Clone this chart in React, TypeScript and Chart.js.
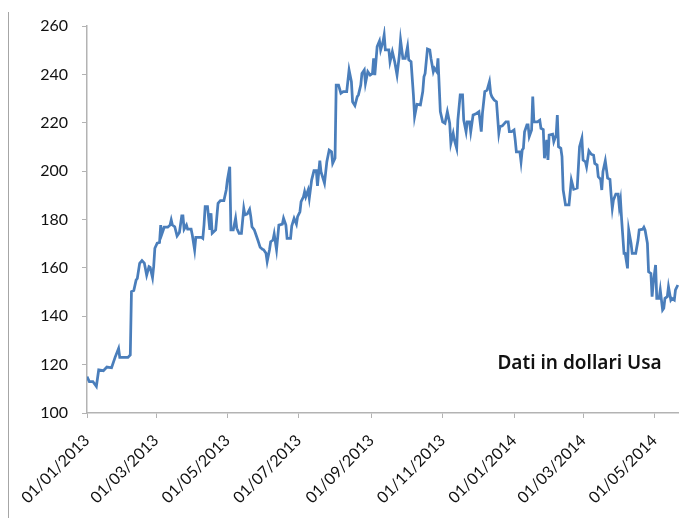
import React, { useEffect, useRef } from "react";
import { Chart, registerables } from "chart.js";

Chart.register(...registerables);

// Days elapsed since 01/01/2013
const days: number[] = [
  0, 2, 5, 8, 10, 14, 17, 21, 24, 27, 28, 32, 35, 37, 38, 40, 42, 43, 45, 47,
  49, 51, 53, 54, 56, 57, 58, 60, 62, 63, 64, 66, 69, 71, 72, 73, 75, 77, 79, 81,
  82, 83, 85, 86, 89, 90, 92, 93, 98, 99, 100, 101, 103, 105, 106, 107, 110, 112, 114, 117,
  119, 120, 122, 123, 125, 127, 128, 130, 132, 134, 135, 137, 139, 140, 141, 143, 144, 146, 148, 150,
  151, 153, 154, 156, 157, 159, 160, 162, 164, 167, 168, 170, 171, 174, 175, 177, 179, 180, 182, 183,
  185, 186, 187, 189, 190, 192, 194, 196, 197, 199, 200, 203, 205, 207, 209, 210, 212, 213, 215, 217,
  219, 222, 224, 226, 227, 229, 231, 232, 234, 235, 237, 238, 240, 242, 244, 245, 246, 248, 250, 251,
  253, 254, 255, 258, 259, 261, 263, 265, 267, 268, 270, 272, 274, 275, 277, 279, 280, 282, 285, 287,
  288, 289, 291, 293, 294, 296, 297, 299, 300, 302, 304, 306, 308, 310, 311, 313, 314, 316, 317, 319,
  321, 322, 324, 325, 327, 328, 330, 332, 335, 337, 338, 340, 342, 344, 345, 346, 348, 350, 352, 353,
  355, 358, 360, 361, 363, 365, 366, 367, 370, 371, 372, 373, 374, 376, 377, 378, 380, 381, 382, 385,
  387, 388, 390, 391, 393, 394, 395, 398, 399, 401, 402, 403, 405, 406, 407, 409, 412, 414, 416, 419,
  421, 423, 424, 426, 427, 429, 431, 433, 434, 436, 437, 439, 440, 441, 443, 445, 447, 448, 449, 450,
  452, 454, 455, 456, 457, 459, 460, 462, 463, 465, 466, 469, 471, 472, 475, 476, 477, 479, 480, 482,
  483, 484, 486, 487, 489, 490, 492, 493, 494, 496, 497, 499, 500, 502, 503, 505,
];

const prices: number[] = [
  115, 113, 113, 111, 117.8, 117.5, 119, 118.7, 123, 126.7, 123, 123, 123, 124, 150.2, 150.6, 155, 155.6, 161.9, 163,
  162, 157, 160.5, 160.2, 156, 160.6, 168.1, 170.2, 170.5, 177.7, 174, 176.8, 176.8, 177.7, 179.8, 177.7, 177, 173.2, 174.6, 181.5,
  181.5, 176, 177.7, 176, 176, 173.6, 167.4, 172.6, 172.6, 172.2, 177.7, 185.3, 185.3, 175.7, 182.6, 174.3, 175.7, 186.7, 187.8, 187.8,
  192.2, 196.3, 201.8, 175.7, 175.7, 180.5, 176.4, 174.3, 174.3, 184.6, 181.9, 182.3, 184.2, 181.2, 177, 175.7, 174.3, 171.5, 168.5, 167.7,
  167.5, 166, 162.6, 167.5, 170.8, 171.5, 174, 167.5, 177.7, 178.1, 180.5, 177.7, 172.2, 172.2, 177.3, 180.5, 178.1, 181.2, 183.2, 187.4,
  189.4, 191.5, 189.4, 192.2, 188.8, 196.3, 200.2, 200.2, 193.9, 204.3, 199.8, 195, 203.9, 208.7, 208, 203.2, 205.3, 235.6, 235.6, 232.2,
  232.9, 232.9, 241.8, 237, 228.7, 227.1, 230.8, 231.5, 235.6, 240.4, 241.8, 236.3, 241.1, 239.7, 240.4, 246.6, 239.7, 251.5, 253.8, 250.1,
  253.5, 256.3, 250.1, 250.1, 245.2, 249.4, 245.2, 239.7, 248, 254.2, 246.6, 246.6, 251.5, 246, 245.2, 231.5, 222.5, 227.6, 227.4, 232.9,
  239, 240.4, 250.5, 250.1, 246.6, 241.1, 242.5, 241.1, 246.6, 224.6, 220.4, 219.8, 224.6, 219.8, 211.5, 215.6, 212.9, 209.4, 221.1, 231.5,
  231.5, 221.1, 216.3, 220.4, 220.4, 216.3, 223.2, 223.6, 224.6, 216.3, 223.9, 232.9, 233.5, 237, 232.2, 230.8, 229.4, 228.7, 215.6, 218.4,
  218.7, 220.4, 220.4, 216.3, 216.3, 217, 212.9, 208, 208, 203.9, 208.7, 209.4, 216.3, 219.1, 219.1, 214.3, 217, 230.8, 220.4, 220.4,
  221.1, 217.7, 217.2, 205.3, 212.9, 204.6, 214.9, 215.3, 212.2, 214.9, 223.2, 210.1, 209.4, 206, 192.2, 186, 186, 196.3, 192.5, 193,
  210.1, 213.6, 204.6, 203.9, 201.8, 208.4, 207, 206.6, 203.2, 202.5, 197.7, 196.6, 192.2, 199.8, 204.3, 197.1, 196.6, 190.1, 184.6, 188.1,
  190.5, 190.5, 185.3, 188.1, 179.8, 166, 166, 159.8, 175.7, 170.2, 166, 166, 171.5, 175.7, 176, 176.8, 175.7, 170.2, 158.4, 157.7,
  148.1, 153.6, 161.2, 147.4, 147.4, 150.9, 142.6, 143.3, 147.4, 148.1, 152.2, 146.7, 147.4, 146.7, 150.9, 152.9,
];

// X tick positions (days since 01/01/2013) and their labels
const tickDays: number[] = [0, 59, 120, 181, 243, 304, 365, 424, 485];
const tickLabels: string[] = [
  "01/01/2013", "01/03/2013", "01/05/2013", "01/07/2013", "01/09/2013",
  "01/11/2013", "01/01/2014", "01/03/2014", "01/05/2014",
];

const noteText = "Dati in dollari Usa";
const noteDay = 421;
const noteValue = 118.0;

const AXIS_COLOR = "#b3b3b3";

export default function App() {
  const canvasRef = useRef<HTMLCanvasElement | null>(null);

  useEffect(() => {
    const canvas = canvasRef.current;
    if (!canvas) return;

    const extras = {
      id: "extras",
      afterDraw(chart: any) {
        const ctx = chart.ctx;
        ctx.save();
        // left border line
        ctx.strokeStyle = "#a6a6a6";
        ctx.lineWidth = 1;
        ctx.beginPath();
        ctx.moveTo(8.5, 12);
        ctx.lineTo(8.5, 518);
        ctx.stroke();
        // annotation
        const xs = chart.scales.x;
        const ys = chart.scales.y;
        ctx.fillStyle = "#111";
        ctx.font = '600 19px "Noto Sans"';
        ctx.textAlign = "center";
        ctx.textBaseline = "alphabetic";
        ctx.fillText(noteText, xs.getPixelForValue(noteDay), ys.getPixelForValue(noteValue));
        ctx.restore();
      },
    };

    const chart = new Chart(canvas, {
      type: "line",
      data: {
        datasets: [
          {
            data: days.map((d, i) => ({ x: d, y: prices[i] })),
            borderColor: "#4a7ebb",
            borderWidth: 2.75,
            pointRadius: 0,
            tension: 0,
            fill: false,
          },
        ],
      },
      options: {
        responsive: false,
        animation: false,
        layout: { padding: { top: 26, left: 0, right: 0, bottom: 0 } },
        plugins: { legend: { display: false }, tooltip: { enabled: false } },
        scales: {
          x: {
            type: "linear",
            min: 0,
            max: 506,
            afterBuildTicks: (s: any) => {
              s.ticks = tickDays.map((v) => ({ value: v }));
            },
            afterFit: (s: any) => {
              s.height = 105;
            },
            ticks: {
              autoSkip: false,
              minRotation: 45,
              maxRotation: 45,
              padding: 13,
              color: "#111",
              font: { family: "Lato", size: 16 },
              callback: (v: any) => {
                const i = tickDays.indexOf(Number(v));
                return i >= 0 ? tickLabels[i] : "";
              },
            },
            grid: {
              display: true,
              drawOnChartArea: false,
              drawTicks: true,
              tickLength: 5,
              color: AXIS_COLOR,
            },
            border: { display: true, color: AXIS_COLOR, width: 1.5 },
          },
          y: {
            min: 100,
            max: 260,
            afterFit: (s: any) => {
              s.width = 87;
            },
            ticks: {
              stepSize: 20,
              padding: 14,
              color: "#111",
              font: { family: "Lato", size: 16 },
            },
            grid: {
              display: true,
              drawOnChartArea: false,
              drawTicks: true,
              tickLength: 5,
              color: AXIS_COLOR,
            },
            border: { display: true, color: AXIS_COLOR, width: 1.5 },
          },
        },
      },
      plugins: [extras],
    });

    return () => chart.destroy();
  }, []);

  return (
    <div style={{ position: "fixed", left: 0, top: 0, width: 681, height: 518, background: "#fff" }}>
      <canvas ref={canvasRef} width={681} height={518} style={{ display: "block" }} />
    </div>
  );
}
